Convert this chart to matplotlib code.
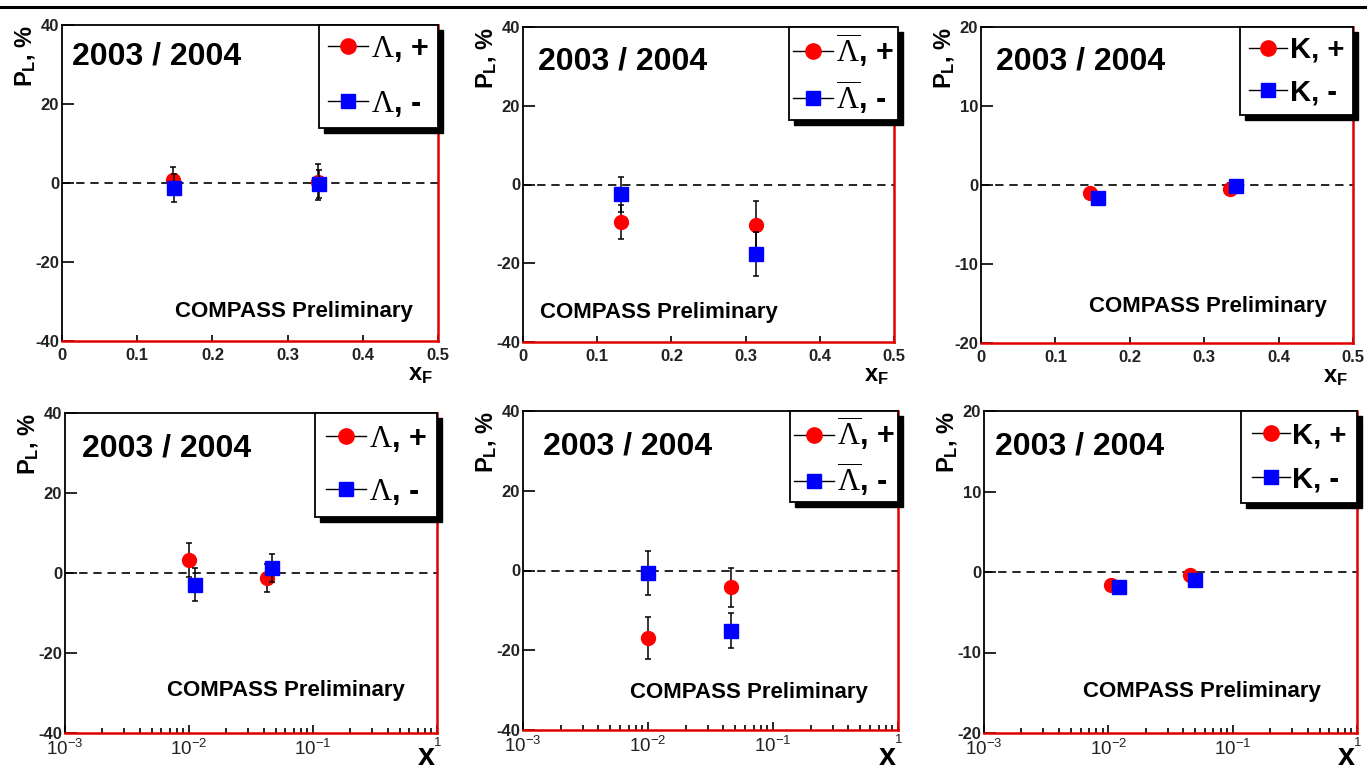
import numpy as np
import matplotlib
matplotlib.use('Agg')
import matplotlib.pyplot as plt
from matplotlib.lines import Line2D
from matplotlib.patches import Rectangle
from matplotlib.ticker import NullFormatter, LogLocator

plt.rcParams['font.family'] = 'Liberation Sans'
plt.rcParams['axes.unicode_minus'] = False
plt.rcParams['mathtext.fontset'] = 'custom'
plt.rcParams['mathtext.rm'] = 'Liberation Serif'
plt.rcParams['mathtext.sf'] = 'Liberation Sans'
plt.rcParams['mathtext.bf'] = 'Liberation Sans:bold'
plt.rcParams['mathtext.it'] = 'Liberation Serif:italic'

# ---- data: P_L (%) vs x_F (top row) and vs x (bottom row)
lam_xf_pos_x = [0.147, 0.341]
lam_xf_pos_y = [0.8, 0.3]
lam_xf_pos_e = [3.2, 4.5]
lam_xf_neg_x = [0.149, 0.342]
lam_xf_neg_y = [-1.2, -0.2]
lam_xf_neg_e = [3.5, 3.6]

alam_xf_pos_x = [0.132, 0.314]
alam_xf_pos_y = [-9.5, -10.2]
alam_xf_pos_e = [4.3, 6.1]
alam_xf_neg_x = [0.132, 0.314]
alam_xf_neg_y = [-2.5, -17.7]
alam_xf_neg_e = [4.4, 5.6]

k_xf_pos_x = [0.147, 0.335]
k_xf_pos_y = [-0.95, -0.5]
k_xf_pos_e = [0.6, 0.7]
k_xf_neg_x = [0.157, 0.343]
k_xf_neg_y = [-1.65, -0.1]
k_xf_neg_e = [0.6, 0.7]

lam_x_pos_x = [0.0100, 0.0425]
lam_x_pos_y = [3.3, -1.3]
lam_x_pos_e = [4.2, 3.5]
lam_x_neg_x = [0.0112, 0.0467]
lam_x_neg_y = [-2.9, 1.2]
lam_x_neg_e = [4.2, 3.5]

alam_x_pos_x = [0.0100, 0.0464]
alam_x_pos_y = [-16.9, -4.2]
alam_x_pos_e = [5.3, 4.9]
alam_x_neg_x = [0.0100, 0.0464]
alam_x_neg_y = [-0.7, -15.1]
alam_x_neg_e = [5.5, 4.4]

k_x_pos_x = [0.0106, 0.0454]
k_x_pos_y = [-1.65, -0.4]
k_x_pos_e = [0.6, 0.7]
k_x_neg_x = [0.0121, 0.0498]
k_x_neg_y = [-1.9, -1.0]
k_x_neg_e = [0.7, 0.7]

lab_lam = [r'$\Lambda$, +', r'$\Lambda$, -']
lab_alam = [r'$\overline{\Lambda}$, +', r'$\overline{\Lambda}$, -']
lab_k = ['K, +', 'K, -']

log_ticks = [1e-3, 1e-2, 1e-1, 1]
log_labels = [r'$\mathsf{10^{-3}}$', r'$\mathsf{10^{-2}}$', r'$\mathsf{10^{-1}}$', r'$\mathsf{^{1}}$']

fig = plt.figure(figsize=(13.67, 7.73), dpi=100)
W, H = 1367., 773.

def rect(l, r, t, b):
    return [l / W, 1 - b / H, (r - l) / W, (b - t) / H]

panels = [
    dict(r=rect(62, 438, 25, 341), log=False, ylim=40, labels=lab_lam, txt=(0.027, 0.90), cp=(0.30, 0.092),
         pos=(lam_xf_pos_x, lam_xf_pos_y, lam_xf_pos_e), neg=(lam_xf_neg_x, lam_xf_neg_y, lam_xf_neg_e),
         leg_x=1.0, lsp=0.8, bp=0.3, fs=22),
    dict(r=rect(523, 894, 27, 342), log=False, ylim=40, labels=lab_alam, txt=(0.04, 0.89), cp=(0.046, 0.095),
         pos=(alam_xf_pos_x, alam_xf_pos_y, alam_xf_pos_e), neg=(alam_xf_neg_x, alam_xf_neg_y, alam_xf_neg_e),
         leg_x=1.011, lsp=0.3, bp=0.15, fs=22),
    dict(r=rect(981, 1353, 27, 343), log=False, ylim=20, labels=lab_k, txt=(0.04, 0.89), cp=(0.29, 0.117),
         pos=(k_xf_pos_x, k_xf_pos_y, k_xf_pos_e), neg=(k_xf_neg_x, k_xf_neg_y, k_xf_neg_e),
         leg_x=1.0, lsp=0.5, bp=0.3, fs=21),
    dict(r=rect(65, 437, 413, 733), log=True, ylim=40, labels=lab_lam, txt=(0.046, 0.89), cp=(0.274, 0.134),
         pos=(lam_x_pos_x, lam_x_pos_y, lam_x_pos_e), neg=(lam_x_neg_x, lam_x_neg_y, lam_x_neg_e),
         leg_x=1.0, lsp=0.75, bp=0.35, fs=22),
    dict(r=rect(523, 898, 411, 730), log=True, ylim=40, labels=lab_alam, txt=(0.053, 0.89), cp=(0.285, 0.116),
         pos=(alam_x_pos_x, alam_x_pos_y, alam_x_pos_e), neg=(alam_x_neg_x, alam_x_neg_y, alam_x_neg_e),
         leg_x=1.0, lsp=0.28, bp=0.12, fs=22),
    dict(r=rect(984, 1357, 411, 733), log=True, ylim=20, labels=lab_k, txt=(0.03, 0.89), cp=(0.265, 0.13),
         pos=(k_x_pos_x, k_x_pos_y, k_x_pos_e), neg=(k_x_neg_x, k_x_neg_y, k_x_neg_e),
         leg_x=1.0, lsp=0.55, bp=0.35, fs=21),
]

legends = []
for p in panels:
    ax = fig.add_axes(p['r'])
    yl = p['ylim']
    ax.set_ylim(-yl, yl)
    ax.set_yticks([-yl, -yl / 2, 0, yl / 2, yl])
    ax.yaxis.set_minor_locator(plt.NullLocator())
    if p['log']:
        ax.set_xscale('log')
        ax.set_xlim(1e-3, 1)
        ax.set_xticks(log_ticks, labels=log_labels)
        ax.xaxis.set_minor_locator(LogLocator(subs=np.arange(2, 10)))
        ax.xaxis.set_minor_formatter(NullFormatter())
        ax.tick_params(axis='x', which='major', length=6, width=1.2, direction='in', pad=4, labelsize=13.5)
        ax.tick_params(axis='x', which='minor', length=3.5, width=1.2, direction='in')
        # axis title sits right at the page edge, as in the original
        ax_h = p['r'][3] * H
        ax.text(0.995, -(p['r'][1] * H - 1) / ax_h, 'x', transform=ax.transAxes, fontsize=22,
                ha='right', va='bottom', fontweight='bold')
    else:
        ax.set_xlim(0, 0.5)
        ax.set_xticks([0, 0.1, 0.2, 0.3, 0.4, 0.5], labels=['0', '0.1', '0.2', '0.3', '0.4', '0.5'])
        ax.xaxis.set_minor_locator(plt.NullLocator())
        ax.tick_params(axis='x', length=4.5, width=1.2, direction='in', pad=5, labelsize=12)
        ax.text(0.985, -0.07, r'x$_\mathbf{F}$', transform=ax.transAxes, fontsize=17, ha='right', va='top',
                fontweight='bold')
    ax.tick_params(axis='y', length=8.5, width=1.2, direction='in', pad=2, labelsize=12)
    for t in ax.get_xticklabels() + ax.get_yticklabels():
        t.set_fontweight('bold')
        t.set_color('#222222')

    ax.set_ylabel(r'P$_\mathbf{L}$, %', loc='top', fontsize=17, fontweight='bold', labelpad=-1)

    for s in ['left', 'top']:
        ax.spines[s].set_color('k')
        ax.spines[s].set_linewidth(1.3)
    for s in ['bottom', 'right']:
        ax.spines[s].set_color('#e00000')
        ax.spines[s].set_linewidth(1.8)

    ax.axhline(0, color='k', lw=1.2, ls=(0, (5, 3.5)), zorder=1)

    px, py, pe = p['pos']
    nx, ny, ne = p['neg']
    ax.errorbar(px, py, yerr=pe, fmt='o', color='red', ms=10, mec='red', ecolor='k', elinewidth=1.1,
                capsize=2, capthick=1.1, zorder=3)
    ax.errorbar(nx, ny, yerr=ne, fmt='s', color='blue', ms=10, mec='blue', ecolor='k', elinewidth=1.1,
                capsize=2, capthick=1.1, zorder=4)

    ax.text(p['txt'][0], p['txt'][1], '2003 / 2004', transform=ax.transAxes, fontsize=23,
            fontweight='bold', ha='left', va='center')
    ax.text(p['cp'][0], p['cp'][1], 'COMPASS Preliminary', transform=ax.transAxes, fontsize=16,
            fontweight='bold', ha='left', va='center')

    handles = [Line2D([], [], color='k', lw=1, marker='o', ms=11, mfc='red', mec='red'),
               Line2D([], [], color='k', lw=1, marker='s', ms=10, mfc='blue', mec='blue')]
    leg = ax.legend(handles, p['labels'], loc='upper right', bbox_to_anchor=(p['leg_x'], 1.0),
                    borderaxespad=0, fancybox=False, framealpha=1, edgecolor='k',
                    prop=dict(family='Liberation Sans', weight='bold', size=p['fs']),
                    handlelength=1.3, handletextpad=0.1, labelspacing=p['lsp'],
                    borderpad=p['bp'], markerfirst=True)
    leg.get_frame().set_linewidth(1.3)
    leg.set_zorder(6)
    legends.append((ax, leg))

# black bar at the top of the page
fig.add_artist(Line2D([0, 1], [1 - 7 / H, 1 - 7 / H], color='k', lw=2.2, transform=fig.transFigure))

# drop shadows behind the legend boxes
fig.canvas.draw()
for ax, leg in legends:
    bb = leg.get_window_extent()
    d = 5
    x0, y0 = ax.transAxes.inverted().transform((bb.x0 + d, bb.y0 - d))
    x1, y1 = ax.transAxes.inverted().transform((bb.x1 + d, bb.y1 - d))
    ax.add_patch(Rectangle((x0, y0), x1 - x0, y1 - y0, transform=ax.transAxes, color='k',
                           clip_on=False, zorder=5.5))

fig.savefig('out.png', dpi=100)
